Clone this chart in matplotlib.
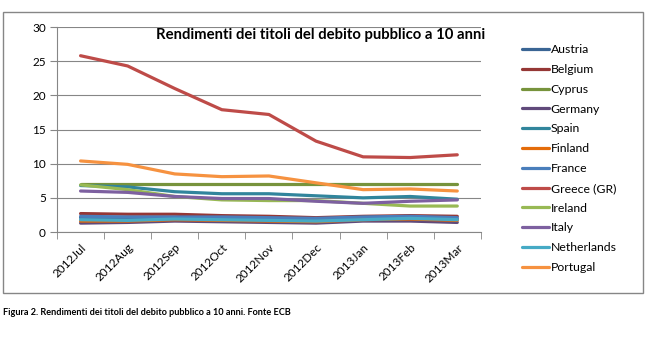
import matplotlib.pyplot as plt
from matplotlib.patches import Rectangle

plt.rcParams['font.family'] = ['Lato', 'DejaVu Sans']

months = ['2012Jul', '2012Aug', '2012Sep', '2012Oct', '2012Nov',
          '2012Dec', '2013Jan', '2013Feb', '2013Mar']

austria = [2.1, 2.0, 2.0, 2.0, 1.9, 1.8, 2.0, 2.1, 1.9]
belgium = [2.7, 2.6, 2.6, 2.4, 2.3, 2.1, 2.3, 2.4, 2.3]
cyprus = [7.0, 7.0, 7.0, 7.0, 7.0, 7.0, 7.0, 7.0, 7.0]
germany = [1.3, 1.4, 1.6, 1.5, 1.4, 1.3, 1.6, 1.6, 1.4]
spain = [6.8, 6.6, 5.9, 5.6, 5.6, 5.3, 5.0, 5.2, 4.8]
finland = [1.6, 1.6, 1.8, 1.7, 1.6, 1.5, 1.8, 1.9, 1.7]
france = [2.3, 2.2, 2.2, 2.2, 2.1, 2.0, 2.2, 2.3, 2.1]
greece = [25.8, 24.3, 21.0, 17.9, 17.2, 13.3, 11.0, 10.9, 11.3]
ireland = [6.9, 6.2, 5.2, 4.7, 4.6, 4.6, 4.2, 3.8, 3.8]
italy = [6.0, 5.8, 5.2, 4.9, 4.9, 4.5, 4.2, 4.5, 4.7]
netherlands = [1.8, 1.7, 1.9, 1.8, 1.7, 1.6, 1.8, 2.0, 1.8]
portugal = [10.4, 9.9, 8.5, 8.1, 8.2, 7.2, 6.2, 6.3, 6.0]

series = [
    ('Austria', austria, '#3A6594'),
    ('Belgium', belgium, '#953735'),
    ('Cyprus', cyprus, '#77933C'),
    ('Germany', germany, '#604A7B'),
    ('Spain', spain, '#31859C'),
    ('Finland', finland, '#E46C0A'),
    ('France', france, '#4A7EBB'),
    ('Greece (GR)', greece, '#BE4B48'),
    ('Ireland', ireland, '#98B954'),
    ('Italy', italy, '#7D60A0'),
    ('Netherlands', netherlands, '#46AAC5'),
    ('Portugal', portugal, '#F69240'),
]

fig = plt.figure(figsize=(6.48, 3.42), dpi=100)
ax = fig.add_axes([0.088, 0.3216, 0.654, 0.5994])

x = list(range(len(months)))
for name, vals, col in series:
    ax.plot(x, vals, color=col, lw=2.3, label=name, solid_capstyle='round')

ax.set_xlim(-0.5, len(months) - 0.5)
ax.set_ylim(0, 30)
ax.set_yticks(range(0, 31, 5))
ax.yaxis.grid(True, color='#868686', lw=0.8)
ax.set_axisbelow(True)

ax.set_xticks(x)
ax.set_xticklabels(months, rotation=45, ha='right', rotation_mode='anchor', fontsize=8.5)
ax.tick_params(axis='x', which='major', length=0, pad=7)
ax.set_xticks([i - 0.5 for i in range(len(months) + 1)], minor=True)
ax.tick_params(axis='x', which='minor', length=5, color='#868686', direction='out')
ax.tick_params(axis='y', length=5, color='#868686', labelsize=8.5, pad=3)

for side in ('top', 'right'):
    ax.spines[side].set_visible(False)
for side in ('left', 'bottom'):
    ax.spines[side].set_color('#868686')

ax.text(0.623, 0.993, 'Rendimenti dei titoli del debito pubblico a 10 anni',
        transform=ax.transAxes, ha='center', va='top', fontsize=10.7, fontweight='bold')

leg = fig.legend(loc='upper left', bbox_to_anchor=(0.798, 0.885), frameon=False,
                 fontsize=8.8, handlelength=2.2, handletextpad=0.15, labelspacing=0.72,
                 borderaxespad=0)

fig.add_artist(Rectangle((0.004, 0.143), 0.988, 0.822, transform=fig.transFigure,
                         fill=False, edgecolor='#868686', lw=1.0))

fig.text(0.005, 0.085, 'Figura 2. Rendimenti dei titoli del debito pubblico a 10 anni. Fonte ECB',
         fontsize=6.6, fontweight='bold', va='center')

fig.savefig('out.png', dpi=100)
